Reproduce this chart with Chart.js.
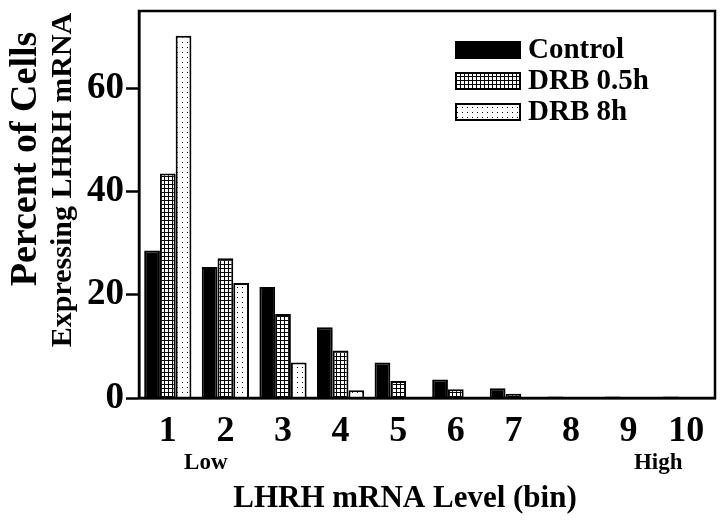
<!DOCTYPE html>
<html>
<head>
<meta charset="utf-8">
<script src="https://cdn.jsdelivr.net/npm/chart.js@4"></script>
<style>
  body { margin: 0; background: #fff; }
  #wrap { width: 720px; height: 525px; }
</style>
</head>
<body>
<div id="wrap"><canvas id="barChart" width="720" height="525"></canvas></div>
<script>
const bins = ['1', '2', '3', '4', '5', '6', '7', '8', '9', '10'];
const control = [28.6, 25.4, 21.5, 13.7, 6.9, 3.6, 1.9, 0.3, 0.3, 0.3];
const drb05 = [43.5, 27.1, 16.3, 9.2, 3.3, 1.7, 0.8, 0.1, 0, 0];
const drb8 = [70.2, 22.3, 6.9, 1.5, 0, 0, 0, 0, 0, 0];
const yTicks = [0, 20, 40, 60];
const endNotes = ['Low', 'High'];

const serif = '"Liberation Serif", "Times New Roman", serif';
const ctx = document.getElementById('barChart');
const g2d = ctx.getContext('2d');

// fine grid fill for DRB 0.5h
function gridFill() {
  const c = document.createElement('canvas');
  c.width = 4; c.height = 4;
  const g = c.getContext('2d');
  g.fillStyle = '#fff';
  g.fillRect(0, 0, 4, 4);
  g.fillStyle = '#000';
  g.fillRect(0, 0, 4, 1);
  g.fillRect(0, 0, 1, 4);
  return g2d.createPattern(c, 'repeat');
}

// sparse dots for DRB 8h
function dotFill() {
  const c = document.createElement('canvas');
  c.width = 5; c.height = 5;
  const g = c.getContext('2d');
  g.fillStyle = '#fff';
  g.fillRect(0, 0, 5, 5);
  g.fillStyle = '#000';
  g.fillRect(2, 2, 1, 1);
  return g2d.createPattern(c, 'repeat');
}

const extras = {
  id: 'extras',
  afterDraw(chart) {
    const { ctx, chartArea: a, scales: { x } } = chart;
    ctx.save();
    // frame
    ctx.strokeStyle = '#000';
    ctx.lineWidth = 2.5;
    ctx.strokeRect(a.left, a.top, a.right - a.left, a.bottom - a.top);

    ctx.fillStyle = '#000';
    // Low / High under first and last bins
    ctx.font = 'bold 23px ' + serif;
    ctx.textAlign = 'center';
    ctx.textBaseline = 'alphabetic';
    ctx.fillText(endNotes[0], x.getPixelForValue(0) + 38, 469);
    ctx.fillText(endNotes[1], x.getPixelForValue(bins.length - 1) - 28, 469);

    // x title
    ctx.font = 'bold 31px ' + serif;
    ctx.fillText('LHRH mRNA Level (bin)', 405, 507);

    // y titles
    ctx.save();
    ctx.translate(26, 159);
    ctx.rotate(-Math.PI / 2);
    ctx.textBaseline = 'middle';
    ctx.font = 'bold 38px ' + serif;
    ctx.fillText('Percent of Cells', 0, 0);
    ctx.restore();
    ctx.save();
    ctx.translate(63, 180);
    ctx.rotate(-Math.PI / 2);
    ctx.textBaseline = 'middle';
    ctx.font = 'bold 30px ' + serif;
    ctx.fillText('Expressing LHRH mRNA', 0, 0);
    ctx.restore();

    // legend
    ctx.textAlign = 'left';
    ctx.font = 'bold 29px ' + serif;
    chart.data.datasets.forEach((ds, i) => {
      const cy = a.top + 39 + i * 31;
      ctx.fillStyle = ds.backgroundColor;
      ctx.fillRect(a.right - 259, cy - 8, 64, 16);
      ctx.lineWidth = 2;
      ctx.strokeStyle = '#000';
      ctx.strokeRect(a.right - 259, cy - 8, 64, 16);
      ctx.fillStyle = '#000';
      ctx.textBaseline = 'middle';
      ctx.fillText(ds.label, a.right - 187, cy + 1);
    });
    ctx.restore();
  }
};

new Chart(ctx, {
  type: 'bar',
  data: {
    labels: bins,
    datasets: [
      { label: 'Control', data: control, backgroundColor: '#000', borderColor: '#000', borderWidth: 2 },
      { label: 'DRB 0.5h', data: drb05, backgroundColor: gridFill(), borderColor: '#000', borderWidth: 2 },
      { label: 'DRB 8h', data: drb8, backgroundColor: dotFill(), borderColor: '#000', borderWidth: 2 }
    ]
  },
  options: {
    responsive: false,
    animation: false,
    layout: { padding: { top: 11, right: 5, left: 0, bottom: 0 } },
    datasets: { bar: { barPercentage: 1.0, categoryPercentage: 0.82 } },
    plugins: { legend: { display: false }, tooltip: { enabled: false } },
    scales: {
      x: {
        afterFit: (s) => { s.height = 127; s.paddingLeft = 0; s.paddingRight = 0; },
        grid: { display: false, drawTicks: false },
        border: { color: '#000', width: 2.5 },
        ticks: { color: '#000', padding: 12, font: { family: serif, size: 36, weight: 'bold' } }
      },
      y: {
        min: 0,
        max: 75,
        afterFit: (s) => { s.width = 139; s.paddingTop = 0; s.paddingBottom = 0; },
        afterBuildTicks: (s) => { s.ticks = yTicks.map(v => ({ value: v })); },
        grid: { drawOnChartArea: false, drawTicks: true, tickLength: 13, tickColor: '#000', tickWidth: 2.5 },
        border: { color: '#000', width: 2.5 },
        ticks: { color: '#000', padding: 2, font: { family: serif, size: 37, weight: 'bold' } }
      }
    }
  },
  plugins: [extras]
});
</script>
</body>
</html>
